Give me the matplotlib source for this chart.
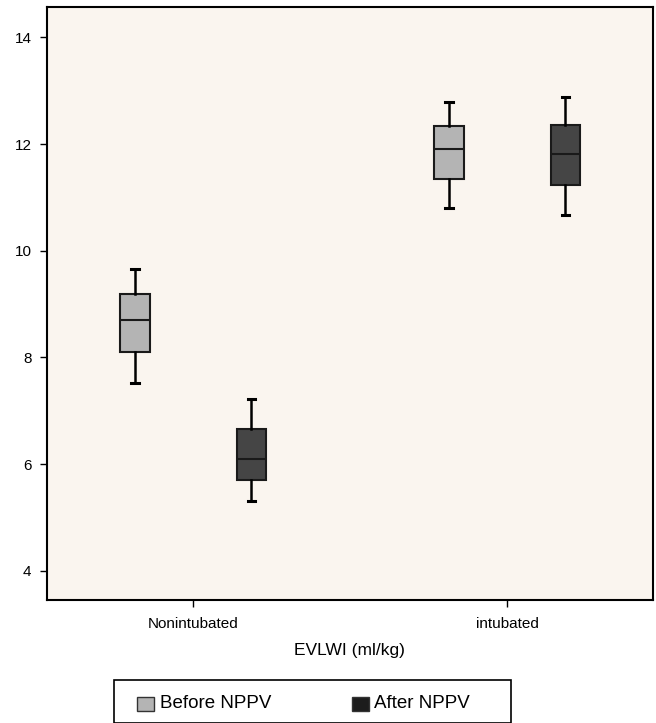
import matplotlib
matplotlib.use("Agg")
import matplotlib.pyplot as plt
from matplotlib.patches import Rectangle

plt.rcParams['font.family'] = ['Liberation Sans', 'DejaVu Sans']

groups = ["Nonintubated", "intubated"]
series = ["Before NPPV", "After NPPV"]
# [whislo, q1, med, q3, whishi] per group, per series
before_stats = [[7.51, 8.10, 8.70, 9.19, 9.66],
                [10.81, 11.35, 11.90, 12.34, 12.78]]
after_stats = [[5.31, 5.70, 6.10, 6.66, 7.22],
               [10.67, 11.23, 11.81, 12.35, 12.89]]
yticks = [4, 6, 8, 10, 12, 14]

box_colors = ["#b4b4b4", "#454545"]
legend_colors = ["#b4b4b4", "#1c1c1c"]
bg = "#faf5ef"

fig = plt.figure(figsize=(6.56, 7.23), dpi=100)
ax = fig.add_axes([46.7/656, (723-600)/723, (652.7-46.7)/656, (600-7)/723])
ax.set_facecolor(bg)

offset = 0.185
width = 0.094
for si, (stats_all, col) in enumerate(zip([before_stats, after_stats], box_colors)):
    stats = []
    for s in stats_all:
        stats.append(dict(whislo=s[0], q1=s[1], med=s[2], q3=s[3], whishi=s[4], fliers=[]))
    pos = [gi + (-offset if si == 0 else offset) for gi in range(len(groups))]
    ax.bxp(stats, positions=pos, widths=width, patch_artist=True, showfliers=False,
           capwidths=0.024,
           boxprops=dict(facecolor=col, edgecolor="#1a1a1a", linewidth=1.5),
           medianprops=dict(color="#1a1a1a", linewidth=1.5),
           whiskerprops=dict(color="black", linewidth=1.8),
           capprops=dict(color="black", linewidth=2.2),
           manage_ticks=False)

ax.set_xlim(-0.467, 1.463)
ax.set_ylim(3.45, 14.57)
ax.set_xticks(range(len(groups)))
ax.set_xticklabels(groups, fontsize=11)
ax.set_yticks(yticks)
ax.set_yticklabels([str(t) for t in yticks], fontsize=11)
ax.tick_params(axis='both', direction='out', length=5, width=1, color='black', pad=6)
ax.tick_params(axis='x', pad=7)
for sp in ax.spines.values():
    sp.set_linewidth(1.5)
    sp.set_color("black")
ax.set_xlabel("EVLWI (ml/kg)", fontsize=12.5, labelpad=9)

# legend box
fig.patches.append(Rectangle((114/656, 0), (511-114)/656, (723-680)/723,
                             transform=fig.transFigure, fill=False, edgecolor="black",
                             linewidth=1.2, clip_on=False))
ly = (723-704)/723
for x0, col, lab in [(137, legend_colors[0], series[0]), (352, legend_colors[1], series[1])]:
    fig.patches.append(Rectangle((x0/656, (723-711)/723), 16.5/656, 14.5/723,
                                 transform=fig.transFigure, facecolor=col,
                                 edgecolor="#333333", linewidth=1))
    fig.text((x0+22.5)/656, ly, lab, fontsize=13.5, va='center', ha='left')

fig.savefig("out.png", dpi=100)
